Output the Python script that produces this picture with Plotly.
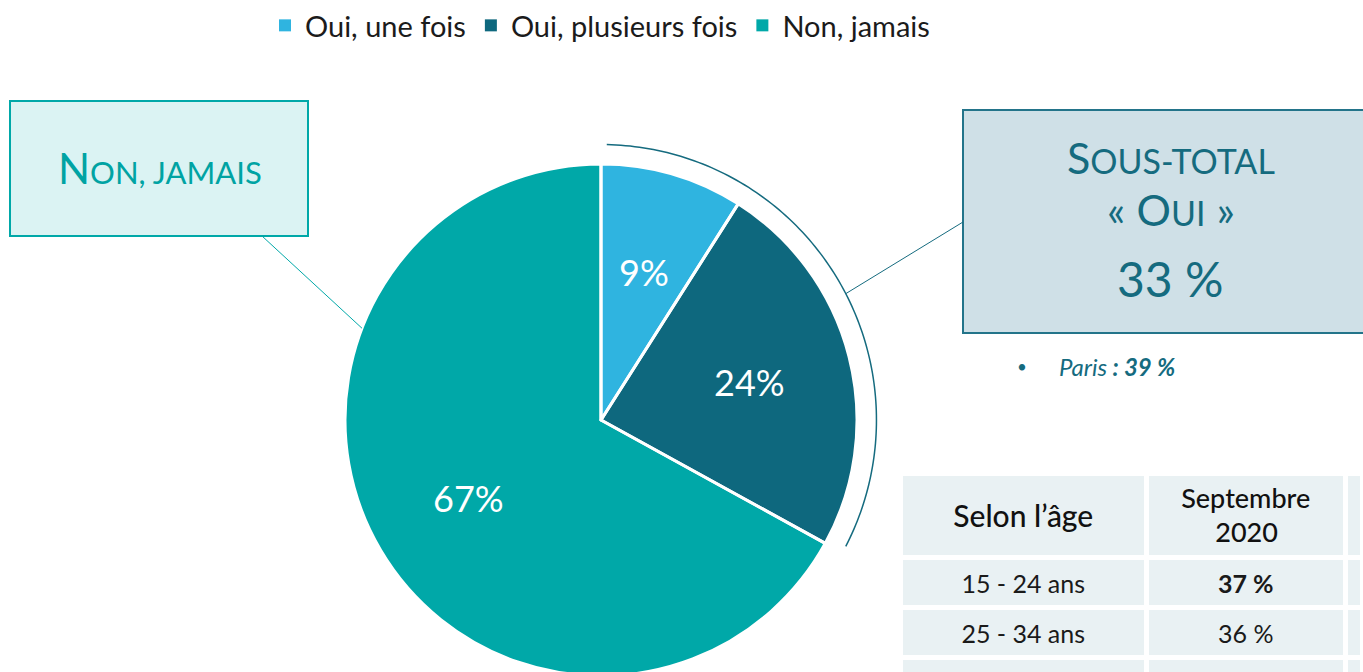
import numpy as np
import plotly.graph_objects as go

W, H = 1363, 676

# ---- data ----
labels = ["Oui, une fois", "Oui, plusieurs fois", "Non, jamais"]
values = [9, 24, 67]
colors = ["#2fb4e0", "#0e687e", "#00a8a8"]

table_header = ["Selon l’âge", ["Septembre", "2020"], ""]
age_groups = ["15 - 24 ans", "25 - 34 ans", ""]
sept_2020 = ["<b>37 %</b>", "36 %", ""]
col3 = ["", "", ""]

paris_value = 39
sous_total_oui = values[0] + values[1]

# ---- geometry helpers (screen px -> paper) ----
R = 256
cx, cy = 601, H - R


def px(x):
    return x / W


def py(y):
    return 1 - y / H


def lowered(txt, size):
    # a small blank first line pushes the text down so it sits centred in its cell
    return txt if txt == "" else f"\u00a0<br><span style='font-size:{size}px'>{txt}</span>"


def two_lines(lines, size, pad_nbsp):
    # two-line header, second line padded so it is centred under the first
    l1 = f"<span style='font-size:{size}px'>{lines[0]}</span>"
    l2 = f"<span style='font-size:{size}px'>{chr(160) * pad_nbsp}{lines[1]}</span>"
    return l1 + "<br>" + l2


fig = go.Figure()

dom = dict(x=[px(cx - R), px(cx + R)], y=[0, 2 * R / H])
fig.add_trace(go.Pie(
    labels=labels, values=values, sort=False, direction="clockwise", rotation=0,
    marker=dict(colors=colors, line=dict(width=0)),
    textinfo="none", domain=dom, hoverinfo="skip",
))
# white separators drawn by an identical, transparent pie on top
fig.add_trace(go.Pie(
    labels=labels, values=values, sort=False, direction="clockwise", rotation=0,
    marker=dict(colors=["rgba(0,0,0,0)"] * len(values), line=dict(color="white", width=3)),
    textinfo="none", domain=dom, hoverinfo="skip", showlegend=False,
))

fig.add_trace(go.Table(
    domain=dict(x=[px(900), 1], y=[0, py(473)]),
    columnwidth=[247, 199, 17],
    header=dict(values=[lowered(table_header[0], 30), two_lines(table_header[1], 27, 5), table_header[2]],
                height=84, fill_color="#e9f1f3",
                line=dict(color="white", width=5), align="center",
                font=dict(family="Lato", size=[20, 26, 26], color="#111111", weight=500)),
    cells=dict(values=[[lowered(v, 25) for v in age_groups],
                       [lowered(v, 25) for v in sept_2020], col3],
               height=50, fill_color="#e9f1f3",
               line=dict(color="white", width=5), align="center",
               font=dict(family="Lato", size=12, color="#1a1a1a")),
))

shapes = []
# Non, jamais box
shapes.append(dict(type="rect", xref="paper", yref="paper", x0=px(10), x1=px(308), y0=py(236), y1=py(101),
                   fillcolor="#dbf3f3", line=dict(color="#00a8a8", width=2), layer="below"))
ang = np.deg2rad(291)
ex, ey = cx + R * np.sin(ang), cy - R * np.cos(ang)
shapes.append(dict(type="line", xref="paper", yref="paper", x0=px(262), y0=py(236), x1=px(ex), y1=py(ey),
                   line=dict(color="#00a8a8", width=1)))

# arc around the "Oui" slices
rA = R * 1.076
a0 = np.deg2rad(1.2)
a1 = np.deg2rad(360 * sous_total_oui / sum(values) - 1.5)
th = np.linspace(a0, a1, 120)
xs = cx + rA * np.sin(th)
ys = cy - rA * np.cos(th)
path = "M " + " L ".join(f"{px(x):.5f},{py(y):.5f}" for x, y in zip(xs, ys))
shapes.append(dict(type="path", xref="paper", yref="paper", path=path, line=dict(color="#156b7f", width=1.5)))

# Sous-total box
shapes.append(dict(type="rect", xref="paper", yref="paper", x0=px(963), x1=px(1375), y0=py(333), y1=py(110),
                   fillcolor="#cfe0e7", line=dict(color="#23748a", width=2), layer="below"))
ang2 = np.deg2rad(62.7)
ax2, ay2 = cx + rA * np.sin(ang2), cy - rA * np.cos(ang2)
shapes.append(dict(type="line", xref="paper", yref="paper", x0=px(963), y0=py(222), x1=px(ax2), y1=py(ay2),
                   line=dict(color="#156b7f", width=1)))

teal_txt = "#00a3a3"
dark_txt = "#156b7f"
annotations = [
    dict(x=px(160), y=py(168), text="N<span style='font-size:31px'>ON, JAMAIS</span>",
         font=dict(family="Lato", size=42, color=teal_txt)),
    dict(x=px(1171), y=py(158), text="S<span style='font-size:34px'>OUS-TOTAL</span>",
         font=dict(family="Lato", size=43, color=dark_txt)),
    dict(x=px(1171), y=py(210), text="« O<span style='font-size:34px'>UI</span> »",
         font=dict(family="Lato", size=43, color=dark_txt)),
    dict(x=px(1170), y=py(278), text=f"{sous_total_oui} %",
         font=dict(family="Lato", size=48, color=dark_txt)),
    dict(x=px(1022), y=py(366), text="•", font=dict(family="Lato", size=17, color=dark_txt)),
    dict(x=px(1057), y=py(366), xanchor="left", text=f"<i>Paris</i><b><i> : {paris_value} %</i></b>",
         font=dict(family="Lato", size=24, color=dark_txt)),
]

# slice percentage labels placed along each slice's mid-angle
cum = np.cumsum([0] + values)
tot = cum[-1]
for i, v in enumerate(values):
    mid = np.deg2rad(360 * (cum[i] + v / 2) / tot)
    lx, ly = cx + 0.6 * R * np.sin(mid), cy - 0.6 * R * np.cos(mid)
    annotations.append(dict(x=px(lx), y=py(ly), text=f"{v}%",
                            font=dict(family="Lato", size=36, color="white")))

for a in annotations:
    a.setdefault("xref", "paper")
    a.setdefault("yref", "paper")
    a.setdefault("showarrow", False)
    a.setdefault("xanchor", "center")
    a.setdefault("yanchor", "middle")

fig.update_layout(
    width=W, height=H, margin=dict(l=0, r=0, t=0, b=0),
    paper_bgcolor="white", plot_bgcolor="white",
    font=dict(family="Lato", color="#1a1a1a"),
    showlegend=True,
    legend=dict(orientation="h", x=px(600), xanchor="center", y=1, yanchor="top",
                font=dict(family="Lato", size=29, color="#1b1b1b"), traceorder="normal"),
    shapes=shapes, annotations=annotations,
)

fig.write_html("out.html", config={"displayModeBar": False},
               post_script="document.body.style.margin='0px';")
